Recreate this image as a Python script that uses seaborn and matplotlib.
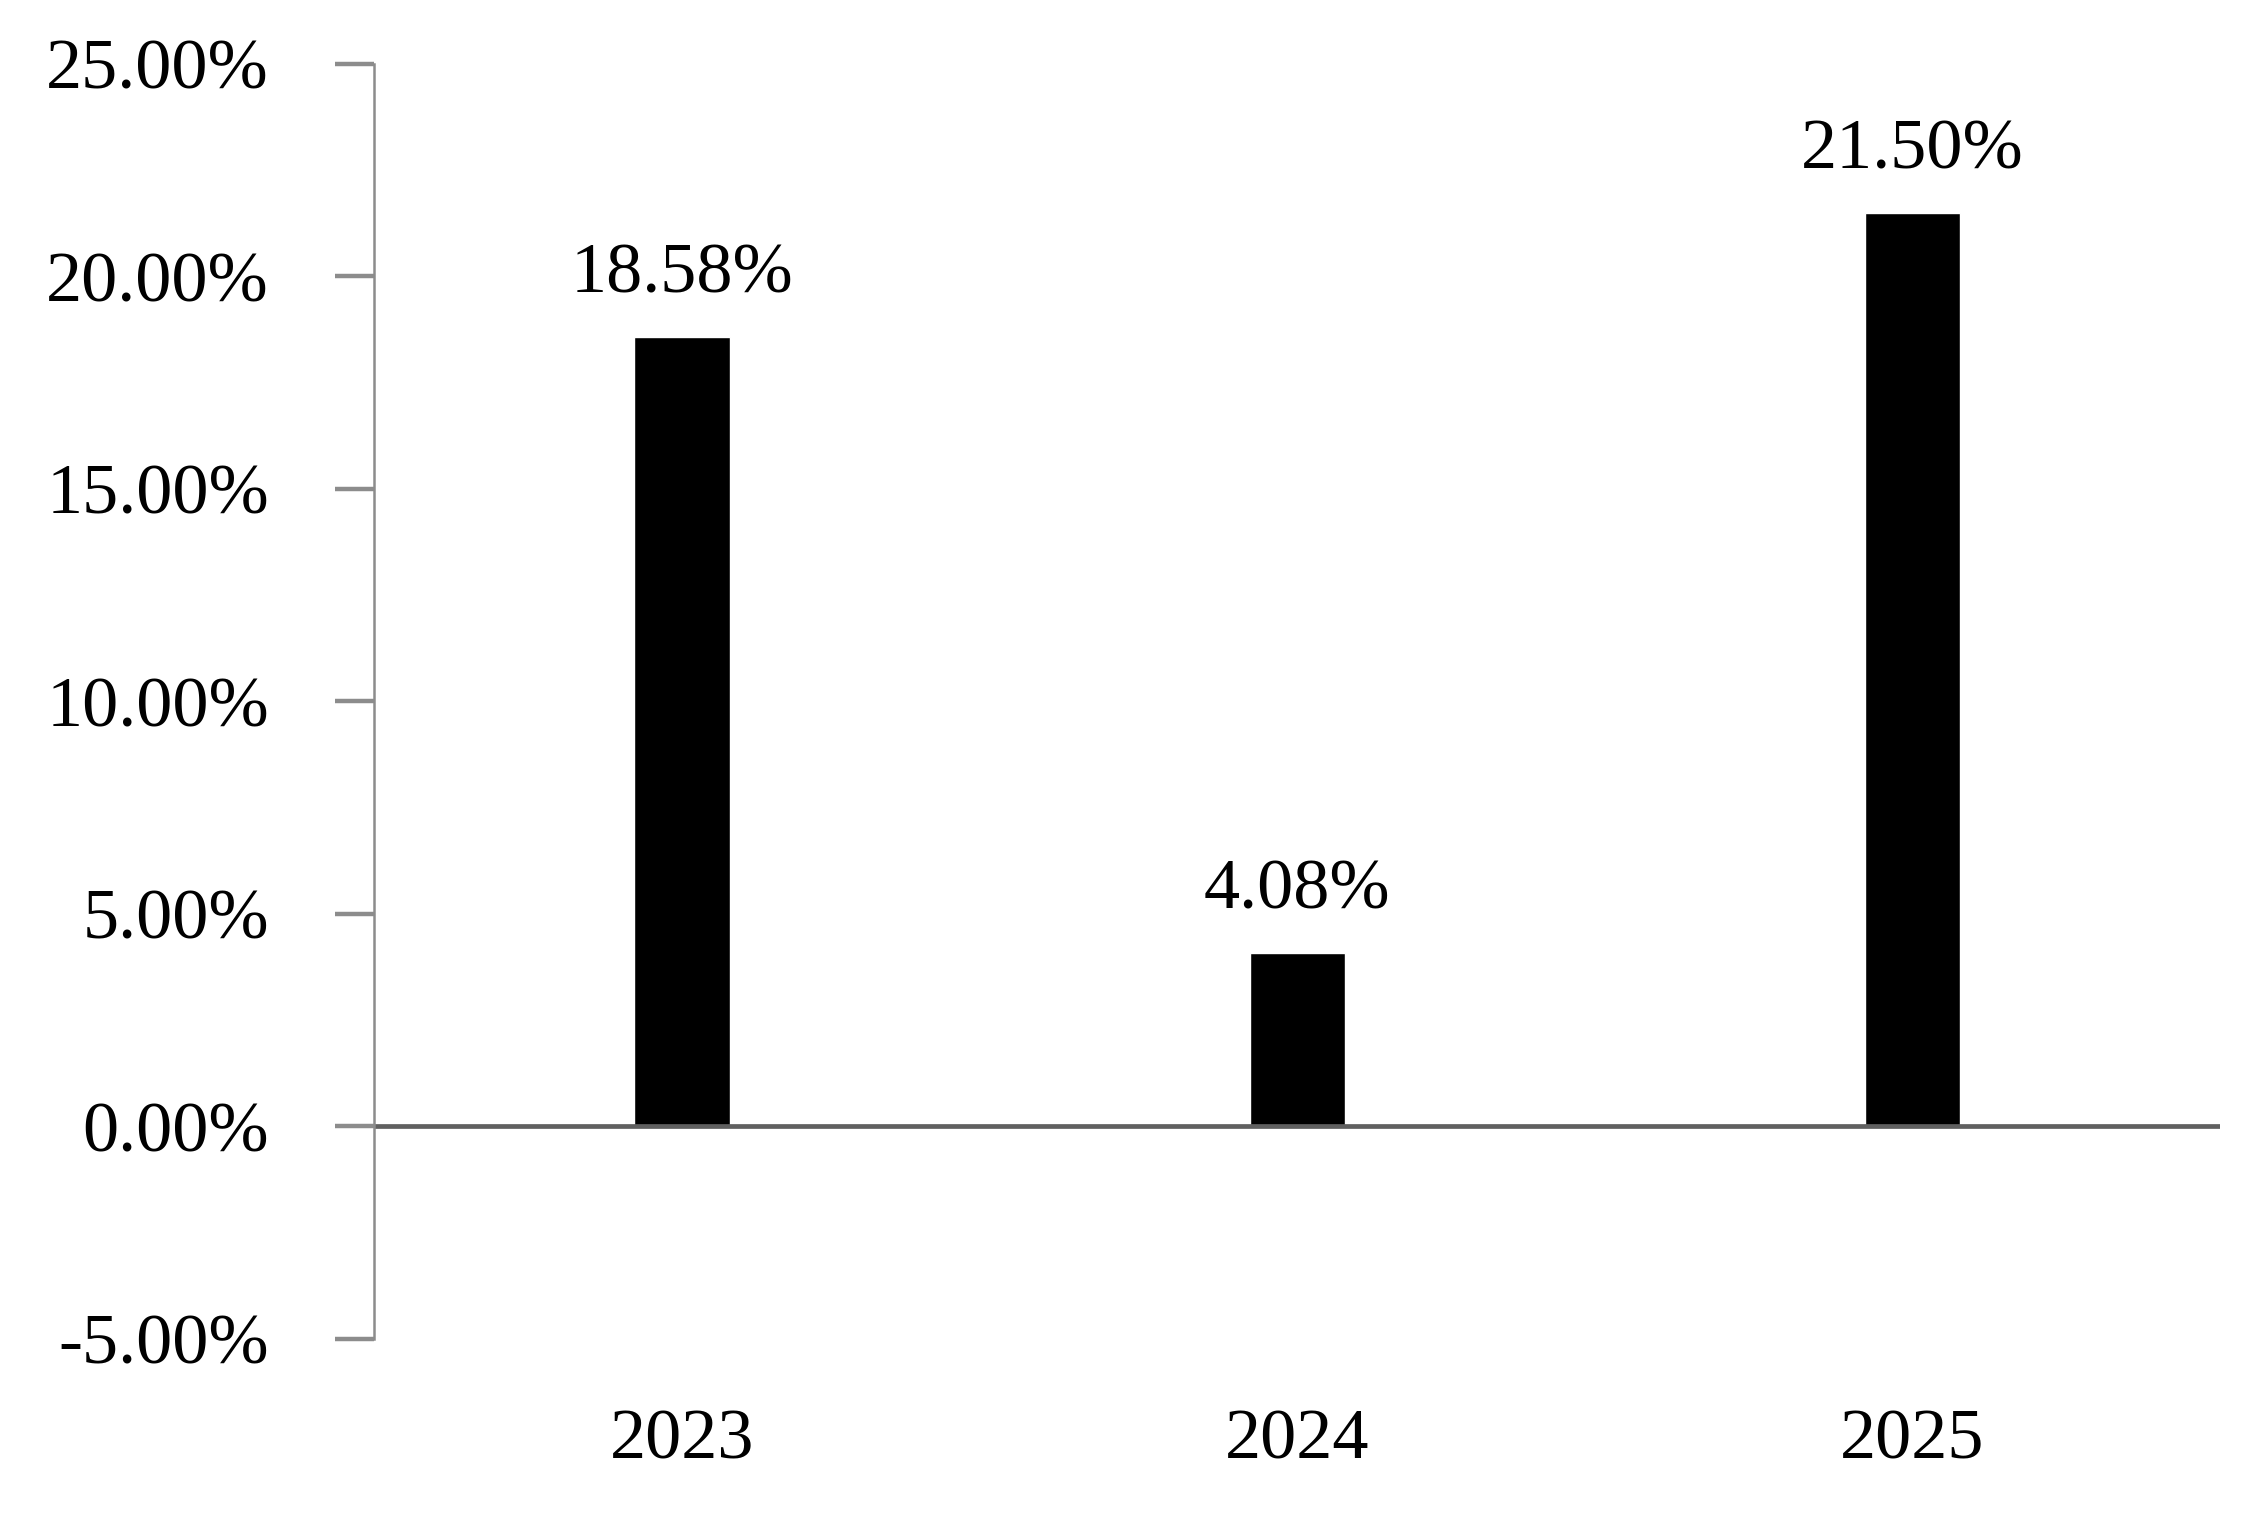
import pandas as pd
import matplotlib.pyplot as plt
import seaborn as sns
from matplotlib.ticker import FuncFormatter

# === DATA ===
anos = ["2023", "2024", "2025"]
retornos = [18.58, 4.08, 21.50]
y_ticks = [-5, 0, 5, 10, 15, 20, 25]

df = pd.DataFrame({"ano": anos, "retorno": retornos})

sns.set_style("white")
plt.rcParams['font.family'] = ['Liberation Serif', 'DejaVu Serif']
plt.rcParams['text.color'] = 'black'
plt.rcParams['xtick.color'] = 'black'
plt.rcParams['ytick.color'] = 'black'

fig = plt.figure(figsize=(22.56, 15.18), dpi=100)
ax = fig.add_axes([0.166, 0.118, 0.818, 0.840])

sns.barplot(data=df, x="ano", y="retorno", color="black", width=0.155,
            saturation=1, ax=ax)

ax.set_xlim(-0.5, 2.5)
ax.set_ylim(-5, 25)
ax.set_yticks(y_ticks)
ax.yaxis.set_major_formatter(FuncFormatter(lambda v, p: f"{v:.2f}%"))
ax.axhline(0, color="#606060", lw=3.4, zorder=1)

# rótulos de valor
for i, v in enumerate(retornos):
    ax.annotate(f"{v:.2f}%", (i, v), xytext=(0, 21), textcoords="offset points",
                ha="center", va="bottom", fontsize=52, color="black")

for s in ["top", "right", "bottom"]:
    ax.spines[s].set_visible(False)
ax.spines["left"].set_color("#8c8c8c")
ax.spines["left"].set_linewidth(1.8)

ax.tick_params(axis="y", length=28, width=3.2, color="#8c8c8c", pad=48,
               labelsize=52, labelcolor="black", left=True)
ax.tick_params(axis="x", length=0, pad=50, labelsize=52, labelcolor="black")
ax.set_xlabel("")
ax.set_ylabel("")

fig.savefig("out.png", dpi=100)
